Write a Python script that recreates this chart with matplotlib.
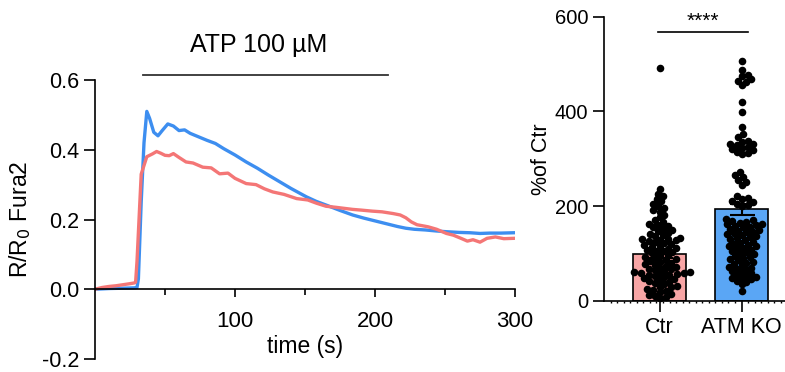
import numpy as np
import matplotlib
matplotlib.use("Agg")
import matplotlib.pyplot as plt

plt.rcParams.update({"font.family": ["Liberation Sans", "DejaVu Sans"], "font.size": 16})

# Fura2 traces (time in s, R/R0)
t_blue = [0, 10, 20, 28, 30, 31, 33, 35, 37, 39, 42, 45, 48, 52, 56, 60, 64, 68, 74, 80, 86, 92, 100,
          108, 116, 124, 132, 140, 151, 158, 166, 175, 184, 192, 200, 208, 216, 222, 228, 236, 244,
          251, 260, 268, 275, 282, 290, 299]
v_blue = [0.0, 0.002, 0.003, 0.004, 0.005, 0.03, 0.25, 0.42, 0.51, 0.49, 0.45, 0.44, 0.455, 0.474, 0.468,
          0.455, 0.457, 0.447, 0.437, 0.427, 0.418, 0.403, 0.385, 0.365, 0.347, 0.327, 0.308, 0.289, 0.265,
          0.252, 0.240, 0.226, 0.213, 0.204, 0.196, 0.188, 0.180, 0.175, 0.172, 0.170, 0.167, 0.165, 0.163,
          0.162, 0.160, 0.161, 0.161, 0.162]
t_red = [0, 5, 10, 15, 20, 25, 28, 29, 30, 33, 37, 41, 44, 47, 50, 53, 56, 60, 65, 70, 77, 83, 89, 95,
         100, 108, 115, 121, 127, 135, 144, 152, 158, 165, 172, 178, 184, 190, 198, 205, 213, 218, 222,
         226, 230, 234, 238, 244, 251, 256, 262, 266, 270, 275, 280, 286, 292, 299]
v_red = [0.0, 0.005, 0.008, 0.01, 0.013, 0.016, 0.018, 0.02, 0.08, 0.33, 0.38, 0.388, 0.395, 0.39, 0.384,
         0.383, 0.389, 0.378, 0.365, 0.362, 0.350, 0.348, 0.331, 0.333, 0.318, 0.303, 0.300, 0.288, 0.279,
         0.272, 0.260, 0.256, 0.247, 0.238, 0.235, 0.232, 0.229, 0.227, 0.224, 0.222, 0.217, 0.213, 0.205,
         0.193, 0.185, 0.182, 0.179, 0.172, 0.160, 0.155, 0.145, 0.138, 0.142, 0.135, 0.146, 0.150, 0.145,
         0.146]

# % of Ctr, individual cells
groups = ["Ctr", "ATM KO"]
ctr_vals = [491, 237, 226, 221, 215, 210, 205, 200, 196, 192, 188, 182, 176, 170, 166, 163, 160, 157,
            155, 152, 150, 147, 144, 141, 139, 136, 133, 131, 130, 129, 128, 126, 124, 122, 120,
            118, 116, 114, 112, 110, 108, 106, 104, 102, 100, 97, 95, 92, 90, 88, 86, 84, 82, 80, 78,
            76, 74, 72, 70, 68, 66, 64, 62, 61, 60, 59, 58, 57, 56, 55, 54, 52, 50, 48, 46, 44, 42,
            40, 38, 35, 32, 30, 28, 25, 22, 20, 18, 15, 12, 10, 8, 5]
ko_vals = [506, 487, 477, 474, 468, 465, 462, 455, 420, 399, 367, 353, 345, 338, 335, 332, 330, 328,
           325, 322, 320, 318, 315, 312, 310, 272, 265, 262, 255, 250, 245, 222, 218, 214, 210, 208,
           205, 202, 200, 172, 170, 168, 166, 165, 163, 161, 160, 158, 156, 155, 152, 150, 148, 146,
           145, 142, 140, 138, 136, 135, 132, 130, 128, 125, 122, 120, 118, 116, 115, 112, 110, 108,
           105, 102, 100, 98, 95, 92, 90, 88, 85, 82, 80, 78, 75, 72, 70, 68, 65, 62, 60, 58, 55, 52,
           50, 48, 47, 45, 42, 40, 35, 20]
means = [98, 193]
sems = [8, 12]

blue = "#3d8ef0"
red = "#f47676"

fig = plt.figure(figsize=(7.85, 3.72), dpi=100)

# ---- left: traces
ax = fig.add_axes([95 / 785, 13 / 372, 420 / 785, 279 / 372])
ax.plot(t_blue, v_blue, color=blue, lw=2.4, solid_joinstyle="round")
ax.plot(t_red, v_red, color=red, lw=2.4, solid_joinstyle="round")
ax.set_xlim(0, 300)
ax.set_ylim(-0.2, 0.6)
ax.spines[["top", "right"]].set_visible(False)
ax.spines["bottom"].set_position(("data", 0))
ax.spines["left"].set_bounds(-0.2, 0.6)
for s in ax.spines.values():
    s.set_linewidth(1.2)
ax.set_yticks([-0.2, 0.0, 0.2, 0.4, 0.6])
ax.set_yticklabels(["-0.2", "0.0", "0.2", "0.4", "0.6"])
ax.set_xticks([100, 200, 300])
ax.set_xticks([50, 150, 250], minor=True)
ax.tick_params(axis="y", length=8, width=1.2, labelsize=15.5)
ax.tick_params(axis="x", which="major", length=6, width=1.2, labelsize=16, pad=10)
ax.tick_params(axis="x", which="minor", length=4, width=1.2)
ax.set_ylabel("R/R$_0$ Fura2", fontsize=16.5, labelpad=6)
ax.text(150, -0.165, "time (s)", ha="center", va="center", fontsize=16.5)
ax.plot([34, 209], [0.614, 0.614], color="#333333", lw=1.3, clip_on=False)
ax.text(117, 0.70, "ATP 100 µM", ha="center", va="center", fontsize=18, clip_on=False)

# ---- right: bars with cells
ax2 = fig.add_axes([604 / 785, 71.3 / 372, 181 / 785, 284 / 372])
ax2.set_xlim(-0.68, 1.53)
ax2.set_ylim(0, 600)
ax2.bar([0, 1], means, width=0.645, color=["#f8a5a5", "#5aa6f5"], edgecolor="black", lw=1.2, zorder=1)

px_per_x = ax2.transData.transform((1, 0))[0] - ax2.transData.transform((0, 0))[0]
px_per_y = ax2.transData.transform((0, 1))[1] - ax2.transData.transform((0, 0))[1]


def swarm(vals, d=5.3):
    placed = []
    xs = []
    for v in vals:
        y = v * px_per_y
        best = None
        for k in range(0, 80):
            for sgn in ([1] if k == 0 else [1, -1]):
                off = sgn * k * d * 0.3
                if all((off - px) ** 2 + (y - py) ** 2 >= d * d for px, py in placed):
                    best = off
                    break
            if best is not None:
                break
        placed.append((best, y))
        xs.append(best / px_per_x)
    return np.array(xs)


for i, vals in enumerate([ctr_vals, ko_vals]):
    sv = np.sort(np.array(vals))
    xs = swarm(sv)
    ax2.scatter(i + xs, sv, s=30, color="black", lw=0, zorder=3, clip_on=False)

ax2.errorbar([0, 1], means, yerr=sems, fmt="none", ecolor="black", elinewidth=1.5, capsize=9,
             capthick=1.5, zorder=4)
ax2.spines[["top", "right"]].set_visible(False)
for s in ax2.spines.values():
    s.set_linewidth(1.2)
ax2.set_yticks([0, 200, 400, 600])
ax2.tick_params(axis="y", length=8, width=1.2, labelsize=14.5)
ax2.set_xticks([0, 1])
ax2.set_xticklabels(groups)
ax2.set_xticks(np.arange(-0.6, 1.55, 0.08), minor=True)
ax2.tick_params(axis="x", which="major", length=8, width=1.2, labelsize=15.5, pad=4)
ax2.tick_params(axis="x", which="minor", length=1.5, width=1.0)
ax2.set_ylabel("%of Ctr", fontsize=15.5, labelpad=2)
ax2.plot([-0.02, 1.08], [567, 567], color="black", lw=1.2, clip_on=False)
ax2.text(0.53, 590, "****", ha="center", va="center", fontsize=15, clip_on=False)

fig.savefig("out.png", dpi=100)
